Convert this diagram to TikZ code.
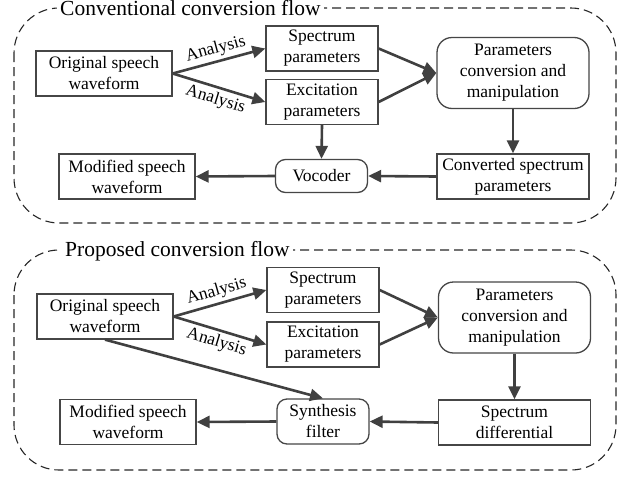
\documentclass[tikz,border=0pt]{standalone}
\usepackage{fontspec}
\setmainfont{Liberation Serif}
\usetikzlibrary{arrows.meta}

\definecolor{boxgray}{RGB}{70,70,70}
\definecolor{arrgray}{RGB}{64,64,64}

\tikzset{
	blk/.style={draw=boxgray, line width=1.3pt, fill=white, align=center,
		inner sep=0pt, minimum height=45pt,
		font=\fontsize{17.5}{21}\selectfont},
	rblk/.style={blk, rounded corners=10pt},
	flow/.style={draw=arrgray, line width=2.6pt,
		-{Triangle[length=13pt,width=12pt]}},
	anl/.style={font=\fontsize{17.5}{21}\selectfont, sloped, midway, inner sep=3pt},
	panel/.style={draw=black!85, line width=1.1pt,
		dash pattern=on 9pt off 5pt, rounded corners=45pt},
	ptitle/.style={fill=white, inner xsep=3pt, inner ysep=1pt, anchor=base west,
		font=\fontsize{21.5}{24}\selectfont},
}

\begin{document}
\begin{tikzpicture}[x=1pt,y=-1pt]
		\useasboundingbox (0,0) rectangle (626,477);

		% conventional flow
		\draw [panel] (14,8) rectangle (616,223);
		\node [ptitle] (cTitle) at (57,15) {Conventional conversion flow};

		\node [blk, minimum width=136pt] (cOrig) at (104,73.5) {Original speech\\waveform};
		\node [blk, minimum width=112pt] (cSpec) at (322,48.5) {Spectrum\\parameters};
		\node [blk, minimum width=112pt] (cExc) at (322,102) {Excitation\\parameters};
		\node [blk, rounded corners=15pt, minimum width=152pt, minimum height=71pt]
			(cParam) at (513,73) {Parameters\\conversion and\\manipulation};
		\node [blk, minimum width=152pt] (cConv) at (513,176.5) {Converted spectrum\\parameters};
		\node [rblk, minimum width=92pt, minimum height=33pt] (cVoc) at (321.5,176) {Vocoder};
		\node [blk, minimum width=136pt] (cMod) at (127,176.5) {Modified speech\\waveform};

		\draw [flow] (cOrig.east) -- node [anl, above] {Analysis} (cSpec.west);
		\draw [flow] (cOrig.east) -- node [anl, below] {Analysis} (cExc.west);
		\draw [flow] (cSpec.east) -- (cParam.west);
		\draw [flow] (cExc.east) -- (cParam.west);
		\draw [flow] (cParam.south) -- (cConv.north);
		\draw [flow] (cExc.south) -- (cVoc.north);
		\draw [flow] (cConv.west) -- (cVoc.east);
		\draw [flow] (cVoc.west) -- (cMod.east);

		% proposed flow
		\draw [panel] (14,250) rectangle (616,470);
		\node [ptitle] (pTitle) at (62,256) {Proposed conversion flow};

		\node [blk, minimum width=136pt] (pOrig) at (105,316.5) {Original speech\\waveform};
		\node [blk, minimum width=112pt] (pSpec) at (323,290) {Spectrum\\parameters};
		\node [blk, minimum width=112pt] (pExc) at (323,344.5) {Excitation\\parameters};
		\node [blk, rounded corners=15pt, minimum width=152pt, minimum height=71pt]
			(pParam) at (514.5,317.5) {Parameters\\conversion and\\manipulation};
		\node [blk, minimum width=152pt] (pDiff) at (514.5,422.5) {Spectrum\\differential};
		\node [rblk, minimum width=92pt] (pSyn) at (323,421.5) {Synthesis\\filter};
		\node [blk, minimum width=136pt] (pMod) at (128,422) {Modified speech\\waveform};

		\draw [flow] (pOrig.east) -- node [anl, above] {Analysis} (pSpec.west);
		\draw [flow] (pOrig.east) -- node [anl, below] {Analysis} (pExc.west);
		\draw [flow] (pSpec.east) -- (pParam.west);
		\draw [flow] (pExc.east) -- (pParam.west);
		\draw [flow] (pParam.south) -- (pDiff.north);
		\draw [flow] (pOrig.south) -- (pSyn.north);
		\draw [flow] (pDiff.west) -- (pSyn.east);
		\draw [flow] (pSyn.west) -- (pMod.east);
	\end{tikzpicture}
\end{document}
